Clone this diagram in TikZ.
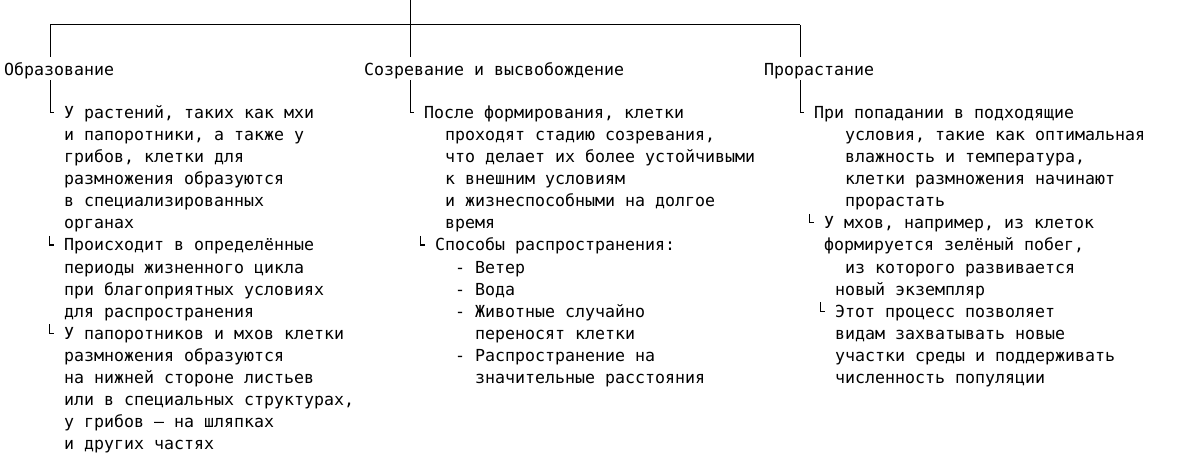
\documentclass[tikz,border=0pt]{standalone}
\usepackage{fontspec}
\newfontfamily\mono{DejaVu Sans Mono}
\tikzset{
	txt/.style={anchor=base west, inner sep=0pt, text height=12pt, text depth=0pt, font={\mono\fontsize{16.6}{22}\selectfont}},
	hdr/.style={anchor=base west, inner sep=0pt, text height=19pt, text depth=4pt, font={\mono\fontsize{16.6}{22}\selectfont}},
	ln/.style={line width=1pt, black},
}

\begin{document}
\begin{tikzpicture}[x=1pt,y=-1pt]
\useasboundingbox (0,0) rectangle (1190,470);
% headers
\node[hdr] (h1) at (4,76) {Образование};
\node[hdr] (h2) at (364,76) {Созревание и высвобождение};
\node[hdr] (h3) at (764,76) {Прорастание};

\coordinate (top) at (410,0);
\coordinate (j1) at (50,25);
\coordinate (j2) at (410,25);
\coordinate (j3) at (800,25);

% left column
\foreach \t [count=\i from 0] in {{У растений, таких как мхи},{и папоротники, а также у},{грибов, клетки для},{размножения образуются},{в специализированных},{органах},
	{Происходит в определённые},{периоды жизненного цикла},{при благоприятных условиях},{для распространения},
	{У папоротников и мхов клетки},{размножения образуются},{на нижней стороне листьев},{или в специальных структурах,},{у грибов — на шляпках},{и других частях}}
	\node[txt] (l\i) at (64,119+22*\i) {\t};

% middle column
\foreach \x/\t [count=\i from 0] in {424/{После формирования, клетки},445/{проходят стадию созревания,},445/{что делает их более устойчивыми},445/{к внешним условиям},445/{и жизнеспособными на долгое},445/{время},
	435/{Способы распространения:},455/{- Ветер},455/{- Вода},455/{- Животные случайно},475/{переносят клетки},455/{- Распространение на},475/{значительные расстояния}}
	\node[txt] (m\i) at (\x,119+22*\i) {\t};

% right column
\foreach \x/\t [count=\i from 0] in {814/{При попадании в подходящие},845/{условия, такие как оптимальная},845/{влажность и температура,},845/{клетки размножения начинают},845/{прорастать},
	824/{У мхов, например, из клеток},824/{формируется зелёный побег,},845/{из которого развивается},835/{новый экземпляр},
	835/{Этот процесс позволяет},835/{видам захватывать новые},835/{участки среды и поддерживать},835/{численность популяции}}
	\node[txt] (r\i) at (\x,119+22*\i) {\t};

% tree lines
\draw[ln] (top) -- (j2);
\draw[ln] (j1) -- (j3);
\foreach \j in {1,2,3} {
	\draw[ln] (j\j) -- (j\j |- h\j.north);
}
\draw[ln] (h1.south -| j1) |- ([xshift=-10pt]l0.west);
\draw[ln] (h2.south -| j2) |- ([xshift=-10pt]m0.west);
\draw[ln] (h3.south -| j3) |- ([xshift=-10pt]r0.west);

% small corner marks
\foreach \n in {l6,l10,m6,r5,r9}
	\draw[ln] ([xshift=-15pt,yshift=9pt]\n.west) |- ([xshift=-10pt]\n.west);
\end{tikzpicture}
\end{document}
